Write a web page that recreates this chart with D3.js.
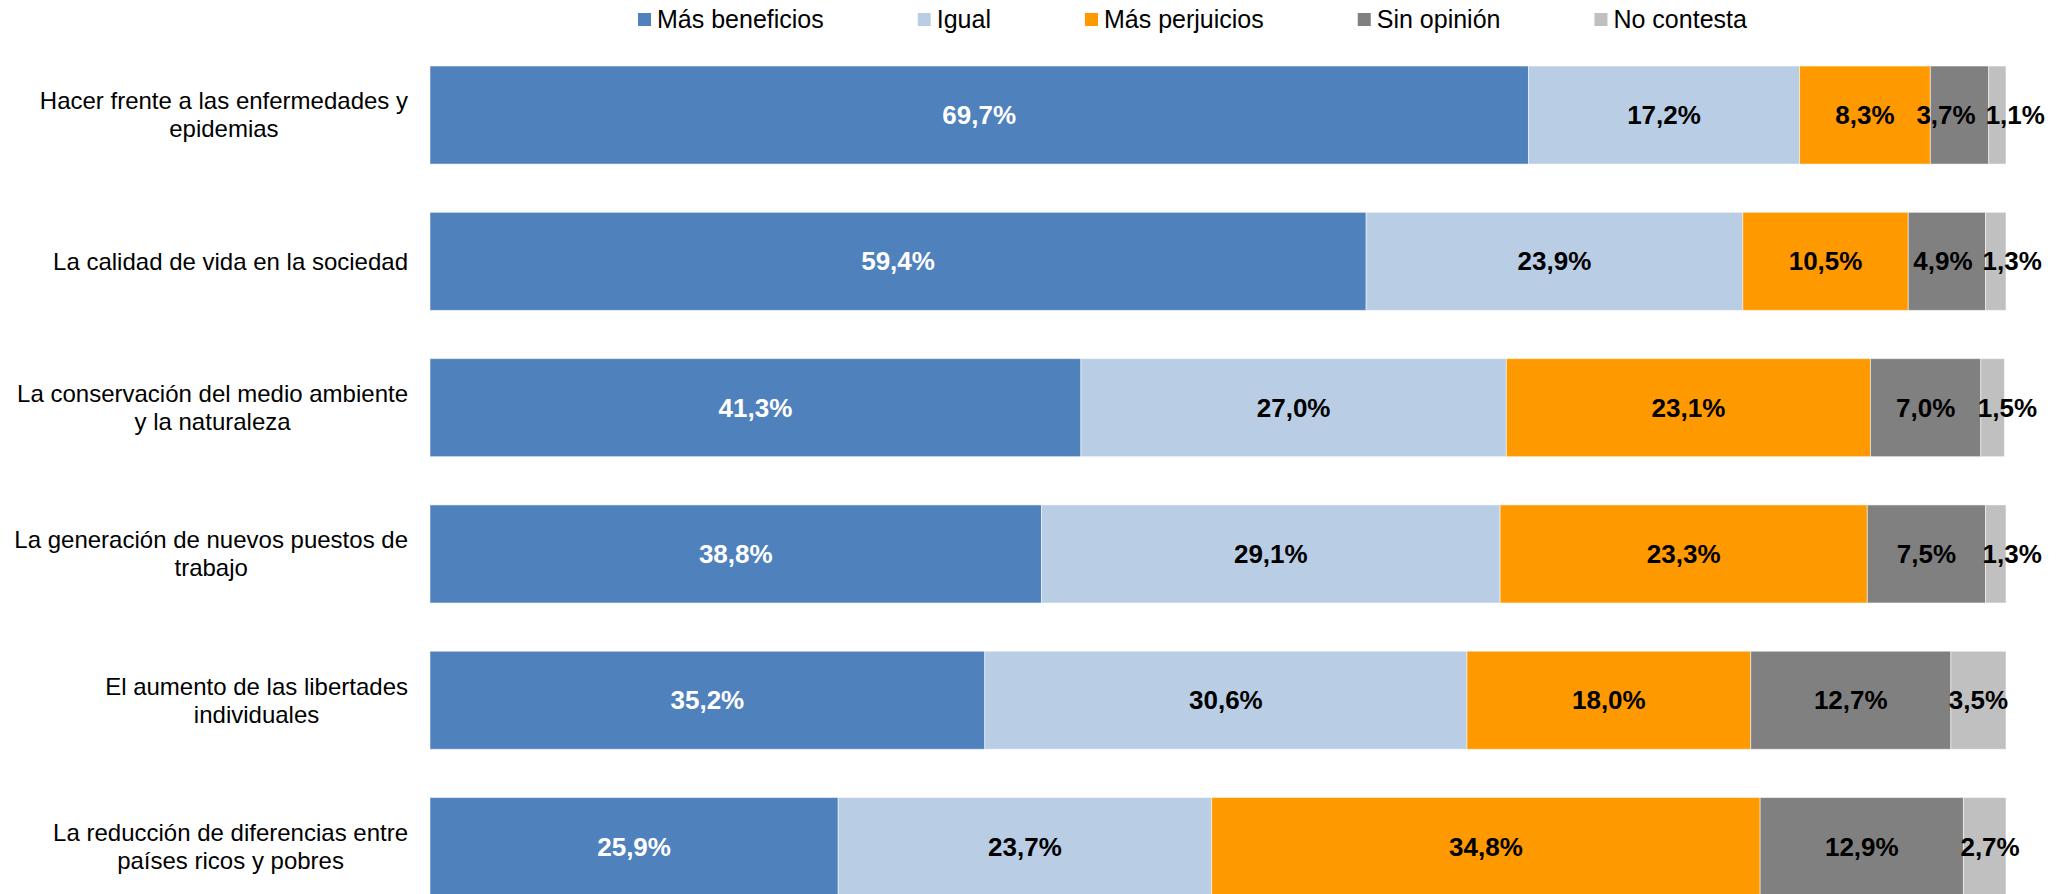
<!DOCTYPE html>
<html>
<head>
<meta charset="utf-8">
<script src="https://cdn.jsdelivr.net/npm/d3@7"></script>
<style>
  body { margin: 0; background: #fff; }
  svg { display: block; font-family: "Liberation Sans", Arial, sans-serif; }
</style>
</head>
<body>
<div id="chart"></div>
<script>
// categories (line breaks as in the original labels)
var categories = [
  "Hacer frente a las enfermedades y\nepidemias",
  "La calidad de vida en la sociedad",
  "La conservación del medio ambiente\ny la naturaleza",
  "La generación de nuevos puestos de\ntrabajo",
  "El aumento de las libertades\nindividuales",
  "La reducción de diferencias entre\npaíses ricos y pobres"
];

var seriesNames = ["Más beneficios", "Igual", "Más perjuicios", "Sin opinión", "No contesta"];
var seriesColors = ["#4F81BD", "#B9CDE5", "#FF9900", "#808080", "#C0C0C0"];

var masBeneficios = [69.7, 59.4, 41.3, 38.8, 35.2, 25.9];
var igual         = [17.2, 23.9, 27.0, 29.1, 30.6, 23.7];
var masPerjuicios = [8.3, 10.5, 23.1, 23.3, 18.0, 34.8];
var sinOpinion    = [3.7, 4.9, 7.0, 7.5, 12.7, 12.9];
var noContesta    = [1.1, 1.3, 1.5, 1.3, 3.5, 2.7];

var width = 2063, height = 894;

var svg = d3.select("#chart").append("svg")
  .attr("width", width)
  .attr("height", height);

var x = d3.scaleLinear().domain([0, 100]).range([430, 2006]);
var y = d3.scaleBand().domain(categories).range([41.9, 919.7])
  .paddingInner(0.33).paddingOuter(0.165);

// build rows of stacked segments
var allSeries = [masBeneficios, igual, masPerjuicios, sinOpinion, noContesta];
var rows = categories.map(function(c, i) {
  var start = 0;
  return allSeries.map(function(s, k) {
    var seg = {cat: c, key: k, value: s[i], x0: start, x1: start + s[i]};
    start += s[i];
    return seg;
  });
});

var rowG = svg.selectAll(".row")
  .data(rows)
  .enter().append("g")
  .attr("class", "row");

rowG.selectAll("rect")
  .data(function(d) { return d; })
  .enter().append("rect")
  .attr("x", function(d) { return x(d.x0); })
  .attr("y", function(d) { return y(d.cat); })
  .attr("width", function(d) { return x(d.x1) - x(d.x0); })
  .attr("height", y.bandwidth())
  .attr("fill", function(d) { return seriesColors[d.key]; })
  .attr("stroke", "#fff")
  .attr("stroke-opacity", 0.5)
  .attr("stroke-width", 1);

// value labels
rowG.each(function(row) {
  var g = d3.select(this);
  var labels = g.selectAll("text.val")
    .data(row)
    .enter().append("text")
    .attr("class", "val")
    .attr("text-anchor", "middle")
    .attr("dy", "0.35em")
    .attr("y", function(d) { return y(d.cat) + y.bandwidth() / 2; })
    .style("font-size", "26px")
    .style("font-weight", "bold")
    .style("fill", function(d) { return d.key == 0 ? "#fff" : "#000"; })
    .text(function(d) { return d.value.toFixed(1).replace(".", ",") + "%"; });

  var items = [];
  labels.each(function(d) {
    items.push({node: this, d: d, cx: x((d.x0 + d.x1) / 2), w: this.getComputedTextLength()});
  });
  // last label: when wider than its segment, start it at the segment's left edge
  var last = items[items.length - 1];
  var segStart = x(last.d.x0);
  if (last.cx - last.w / 2 < segStart - 3) last.cx = segStart - 3 + last.w / 2;
  // walk back and move earlier labels left when they collide
  for (var i = items.length - 2; i >= 0; i--) {
    var limit = items[i + 1].cx - items[i + 1].w / 2 - 10;
    if (items[i].cx + items[i].w / 2 > limit) items[i].cx = limit - items[i].w / 2;
  }
  items.forEach(function(it) { d3.select(it.node).attr("x", it.cx); });
});

// category labels: block right-aligned, lines centred
var lineH = 28;
categories.forEach(function(c) {
  var lines = c.split("\n");
  var t = svg.append("text")
    .style("font-size", "24px")
    .attr("text-anchor", "middle")
    .style("fill", "#000");
  var spans = lines.map(function(l) {
    return t.append("tspan").text(l);
  });
  var maxW = d3.max(spans, function(s) { return s.node().getComputedTextLength(); });
  var cx = 408 - maxW / 2;
  var cy = y(c) + y.bandwidth() / 2;
  spans.forEach(function(s, j) {
    s.attr("x", cx)
      .attr("y", cy + (j - (lines.length - 1) / 2) * lineH)
      .attr("dy", "0.35em");
  });
});

// legend
var legend = svg.append("g").attr("class", "legend");
var lx = 638;
seriesNames.forEach(function(name, k) {
  legend.append("rect")
    .attr("x", lx)
    .attr("y", 13)
    .attr("width", 13)
    .attr("height", 13)
    .attr("fill", seriesColors[k]);
  var txt = legend.append("text")
    .attr("x", lx + 19)
    .attr("y", 28)
    .style("font-size", "25px")
    .style("fill", "#000")
    .text(name);
  lx = lx + 19 + txt.node().getComputedTextLength() + 94;
});
</script>
</body>
</html>
